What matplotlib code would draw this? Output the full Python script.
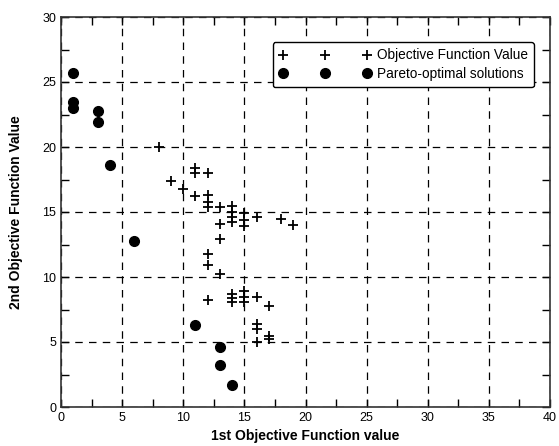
import matplotlib
matplotlib.use("Agg")
import matplotlib.pyplot as plt
from matplotlib.ticker import MultipleLocator

plt.rcParams['font.family'] = ['Liberation Sans', 'DejaVu Sans']

# Objective function values (crosses)
obj_x = [8, 9, 10, 11, 11, 11, 12, 12, 12, 12, 13, 13, 13, 14, 14, 14, 14,
         15, 15, 15, 16, 18, 19,
         12, 12, 13, 12, 14, 14, 14, 15, 15, 15, 16, 16, 16, 16, 17, 17, 17]
obj_y = [20.0, 17.4, 16.8, 18.4, 18.0, 16.2, 18.0, 16.3, 15.8, 15.4, 15.4, 14.1, 12.9,
         15.5, 15.0, 14.6, 14.2, 14.9, 14.4, 13.9, 14.6, 14.5, 14.0,
         11.8, 10.9, 10.2, 8.2, 8.7, 8.4, 8.1, 8.9, 8.5, 8.1, 8.5, 6.4, 6.0, 5.0,
         7.8, 5.5, 5.2]

# Pareto-optimal solutions (filled dots)
par_x = [1, 1, 1, 3, 3, 4, 6, 11, 13, 13, 14]
par_y = [25.7, 23.5, 23.0, 22.8, 21.9, 18.6, 12.8, 6.3, 4.6, 3.2, 1.7]

x_label = "1st Objective Function value"
y_label = "2nd Objective Function Value"
series_names = ["Objective Function Value", "Pareto-optimal solutions"]

fig = plt.figure(figsize=(5.59, 4.46), dpi=100)
ax = fig.add_axes([61/559, 1 - 407/446, (550 - 61)/559, (407 - 17)/446])

ax.plot(obj_x, obj_y, linestyle='none', marker='+', color='black',
        markersize=7, markeredgewidth=1.3, label=series_names[0], zorder=3)
ax.plot(par_x, par_y, linestyle='none', marker='o', color='black',
        markersize=7, label=series_names[1], zorder=3)

ax.set_xlim(0, 40)
ax.set_ylim(0, 30)
ax.xaxis.set_major_locator(MultipleLocator(5))
ax.yaxis.set_major_locator(MultipleLocator(5))
ax.xaxis.set_minor_locator(MultipleLocator(2.5))
ax.yaxis.set_minor_locator(MultipleLocator(2.5))
ax.tick_params(which='both', direction='in', top=True, right=True,
               labelsize=9, color='black')
ax.tick_params(which='major', length=6, width=1)
ax.tick_params(which='minor', length=6, width=1)
ax.grid(True, which='major', color='black', linestyle=(0, (6, 5)), linewidth=0.9)
for s in ax.spines.values():
    s.set_linewidth(1.2)
    s.set_color('#333333')

ax.set_xlabel(x_label, fontsize=10, fontweight='bold', labelpad=4)
ax.set_ylabel(y_label, fontsize=10, fontweight='bold', labelpad=14)

leg = ax.legend(loc='upper right', bbox_to_anchor=(0.967, 0.935), numpoints=3,
                fontsize=9.8, frameon=True, fancybox=True, framealpha=1,
                edgecolor='black', borderpad=0.45, handlelength=6.8,
                labelspacing=0.35, handletextpad=0.4, borderaxespad=0)
leg.get_frame().set_linewidth(1.0)

fig.savefig("out.png", dpi=100)
